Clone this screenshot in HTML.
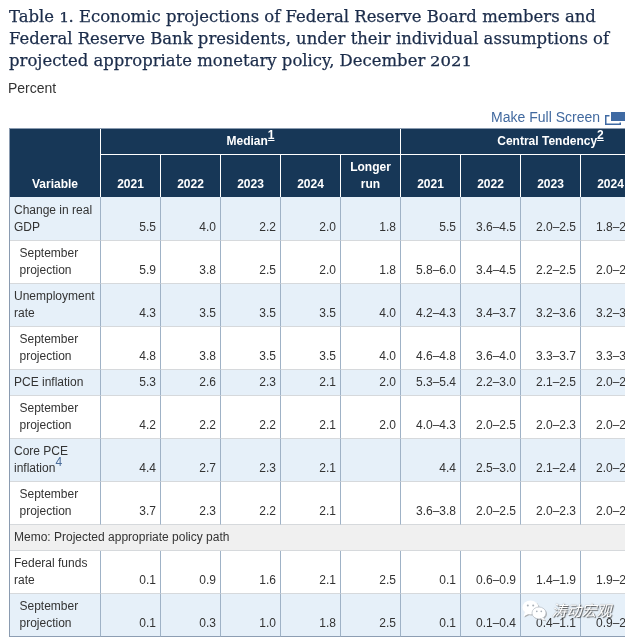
<!DOCTYPE html>
<html lang="en">
<head>
<meta charset="utf-8">
<title>Table 1. Economic projections</title>
<style>
html,body{margin:0;padding:0;background:#fff;}
body{width:633px;height:639px;overflow:hidden;position:relative;font-family:"Liberation Sans","Noto Sans CJK SC",sans-serif;color:#333;}
#title{position:absolute;left:9px;top:4.6px;width:625px;margin:0;font-family:"DejaVu Serif","Liberation Serif",serif;font-weight:normal;font-size:17px;line-height:22px;transform:scaleX(0.968);-webkit-text-stroke:0.25px #1b2c4a;transform-origin:0 0;color:#1b2c4a;white-space:nowrap;}
#title span{display:block;height:22px;}
#title i{line-height:0;font-style:normal;font-size:12.4px;display:inline-block;transform:scaleX(1.3);transform-origin:0 50%;}
#title i.a{margin-right:1.6px}
#title i.b{margin-right:11.5px;transform:scaleX(1.37)}
#percent{position:absolute;left:8px;top:79px;font-size:14px;line-height:18px;color:#333;}
#mfs{position:absolute;right:33px;top:108px;font-size:14px;line-height:18px;color:#41699f;white-space:nowrap;}
#mfsicon{position:absolute;left:604px;top:110px;}
#wrap{position:absolute;left:9px;top:128px;width:616px;height:511px;overflow:hidden;}
table{border-collapse:separate;border-spacing:0;table-layout:fixed;width:692px;font-size:12px;border-left:1px solid #8a9bb0;border-top:1px solid #8a9bb0;}
col.v{width:91px}
col.n{width:60px}
th{background:#173757;color:#fff;font-weight:bold;font-size:12px;line-height:17px;border-right:1px solid #fff;border-bottom:1px solid #fff;padding:0 4px 4px;vertical-align:bottom;text-align:center;box-sizing:border-box;}
th.grp{height:26px;padding-bottom:4px}
tr.h2 th{height:42px;border-bottom:none}
th.var{border-bottom:none}
th sup, td sup{font-size:12px;line-height:0;vertical-align:5.7px;}
td sup{color:#4a6c99;vertical-align:6.4px}
th sup{text-decoration:underline}
td{box-sizing:border-box;height:43px;border-right:1px solid #9fb2c6;border-bottom:1px solid #d6d9dc;padding:0 4px 4px 0;vertical-align:bottom;text-align:right;line-height:17px;color:#333;background:#fff;white-space:nowrap;}
td.l{text-align:left;padding:0 2px 4px 4px;white-space:normal;vertical-align:bottom}
td.s{padding-left:9.5px}
tr.first td{height:44px}
tbody tr:last-child td{border-bottom-color:#8d9eb3}
tr.b td{background:#e6f0f9}
tr.one td{height:26px;padding-bottom:4px}
tr.memo td{height:26px;background:#f0f0f0;text-align:left;padding:0 0 4px 4px;border-right:none}
#wm{position:absolute;left:520px;top:596px;width:113px;height:30px;}
#wm svg{position:absolute;left:0;top:0;}
#wmt{position:absolute;left:31.5px;top:5px;font-family:"Liberation Sans","Noto Sans CJK SC",sans-serif;font-size:15px;line-height:20px;font-style:italic;color:#fff;white-space:nowrap;text-shadow:1px 1px 1px rgba(60,60,60,.85),0 0 1px rgba(90,90,90,.6);letter-spacing:0;}
</style>
</head>
<body>
<h1 id="title"><span>Table <i class="a">1</i>. Economic projections of Federal Reserve Board members and</span><span>Federal Reserve Bank presidents, under their individual assumptions of</span><span>projected appropriate monetary policy, December <i class="b">2021</i></span></h1>
<div id="percent">Percent</div>
<div id="mfs">Make Full Screen</div>
<svg id="mfsicon" width="22" height="16" viewBox="0 0 22 16"><rect x="1.75" y="5.75" width="14.5" height="8.5" fill="none" stroke="#3f6aa3" stroke-width="1.5"/><rect x="5.5" y="0.5" width="17" height="12" fill="#fff"/><rect x="7" y="2" width="14" height="9" fill="#3f6aa3"/></svg>
<div id="wrap">
<table>
<colgroup><col class="v"><col class="n"><col class="n"><col class="n"><col class="n"><col class="n"><col class="n"><col class="n"><col class="n"><col class="n"><col class="n"></colgroup>
<thead>
<tr><th class="var" rowspan="2">Variable</th><th class="grp" colspan="5">Median<sup>1</sup></th><th class="grp" colspan="5">Central Tendency<sup>2</sup></th></tr>
<tr class="h2"><th>2021</th><th>2022</th><th>2023</th><th>2024</th><th>Longer run</th><th>2021</th><th>2022</th><th>2023</th><th>2024</th><th>Longer run</th></tr>
</thead>
<tbody>
<tr class="b first"><td class="l">Change in real GDP</td><td>5.5</td><td>4.0</td><td>2.2</td><td>2.0</td><td>1.8</td><td>5.5</td><td>3.6–4.5</td><td>2.0–2.5</td><td>1.8–2.0</td><td>1.8–2.0</td></tr>
<tr><td class="l s">September projection</td><td>5.9</td><td>3.8</td><td>2.5</td><td>2.0</td><td>1.8</td><td>5.8–6.0</td><td>3.4–4.5</td><td>2.2–2.5</td><td>2.0–2.2</td><td>1.8–2.0</td></tr>
<tr class="b"><td class="l">Unemployment rate</td><td>4.3</td><td>3.5</td><td>3.5</td><td>3.5</td><td>4.0</td><td>4.2–4.3</td><td>3.4–3.7</td><td>3.2–3.6</td><td>3.2–3.7</td><td>3.8–4.2</td></tr>
<tr><td class="l s">September projection</td><td>4.8</td><td>3.8</td><td>3.5</td><td>3.5</td><td>4.0</td><td>4.6–4.8</td><td>3.6–4.0</td><td>3.3–3.7</td><td>3.3–3.6</td><td>3.8–4.3</td></tr>
<tr class="b one"><td class="l">PCE inflation</td><td>5.3</td><td>2.6</td><td>2.3</td><td>2.1</td><td>2.0</td><td>5.3–5.4</td><td>2.2–3.0</td><td>2.1–2.5</td><td>2.0–2.2</td><td>2.0</td></tr>
<tr><td class="l s">September projection</td><td>4.2</td><td>2.2</td><td>2.2</td><td>2.1</td><td>2.0</td><td>4.0–4.3</td><td>2.0–2.5</td><td>2.0–2.3</td><td>2.0–2.2</td><td>2.0</td></tr>
<tr class="b"><td class="l">Core PCE inflation<sup>4</sup></td><td>4.4</td><td>2.7</td><td>2.3</td><td>2.1</td><td></td><td>4.4</td><td>2.5–3.0</td><td>2.1–2.4</td><td>2.0–2.2</td><td></td></tr>
<tr><td class="l s">September projection</td><td>3.7</td><td>2.3</td><td>2.2</td><td>2.1</td><td></td><td>3.6–3.8</td><td>2.0–2.5</td><td>2.0–2.3</td><td>2.0–2.2</td><td></td></tr>
<tr class="memo"><td colspan="11">Memo: Projected appropriate policy path</td></tr>
<tr><td class="l">Federal funds rate</td><td>0.1</td><td>0.9</td><td>1.6</td><td>2.1</td><td>2.5</td><td>0.1</td><td>0.6–0.9</td><td>1.4–1.9</td><td>1.9–2.9</td><td>2.3–2.5</td></tr>
<tr class="b"><td class="l s">September projection</td><td>0.1</td><td>0.3</td><td>1.0</td><td>1.8</td><td>2.5</td><td>0.1</td><td>0.1–0.4</td><td>0.4–1.1</td><td>0.9–2.1</td><td>2.3–2.5</td></tr>
</tbody>
</table>
</div>
<div id="wm"><svg width="32" height="28" viewBox="0 0 32 28">
<g fill="#9a9a9a" opacity=".75" transform="translate(1,1)"><ellipse cx="10.5" cy="11.5" rx="8" ry="7"/><path d="M5 16 L3.5 20.5 L8.5 18 Z"/><ellipse cx="19" cy="17" rx="7" ry="6"/><path d="M23 21.5 L25.5 24.5 L20.5 23 Z"/></g>
<g fill="#fff"><ellipse cx="10.5" cy="11.5" rx="8" ry="7"/><path d="M5 16 L3.5 20.5 L8.5 18 Z"/></g>
<g fill="#fff" stroke="#b5bcc4" stroke-width=".7"><ellipse cx="19" cy="17" rx="7" ry="6"/></g><path d="M23 21.5 L25.5 24.5 L20.5 23 Z" fill="#fff"/>
<g fill="#a9b0b8"><circle cx="7.8" cy="9.5" r="1"/><circle cx="13.2" cy="9.5" r="1"/><circle cx="16.8" cy="15.3" r=".85"/><circle cx="21.3" cy="15.3" r=".85"/></g>
</svg><div id="wmt">涛动宏观</div></div>
</body>
</html>
